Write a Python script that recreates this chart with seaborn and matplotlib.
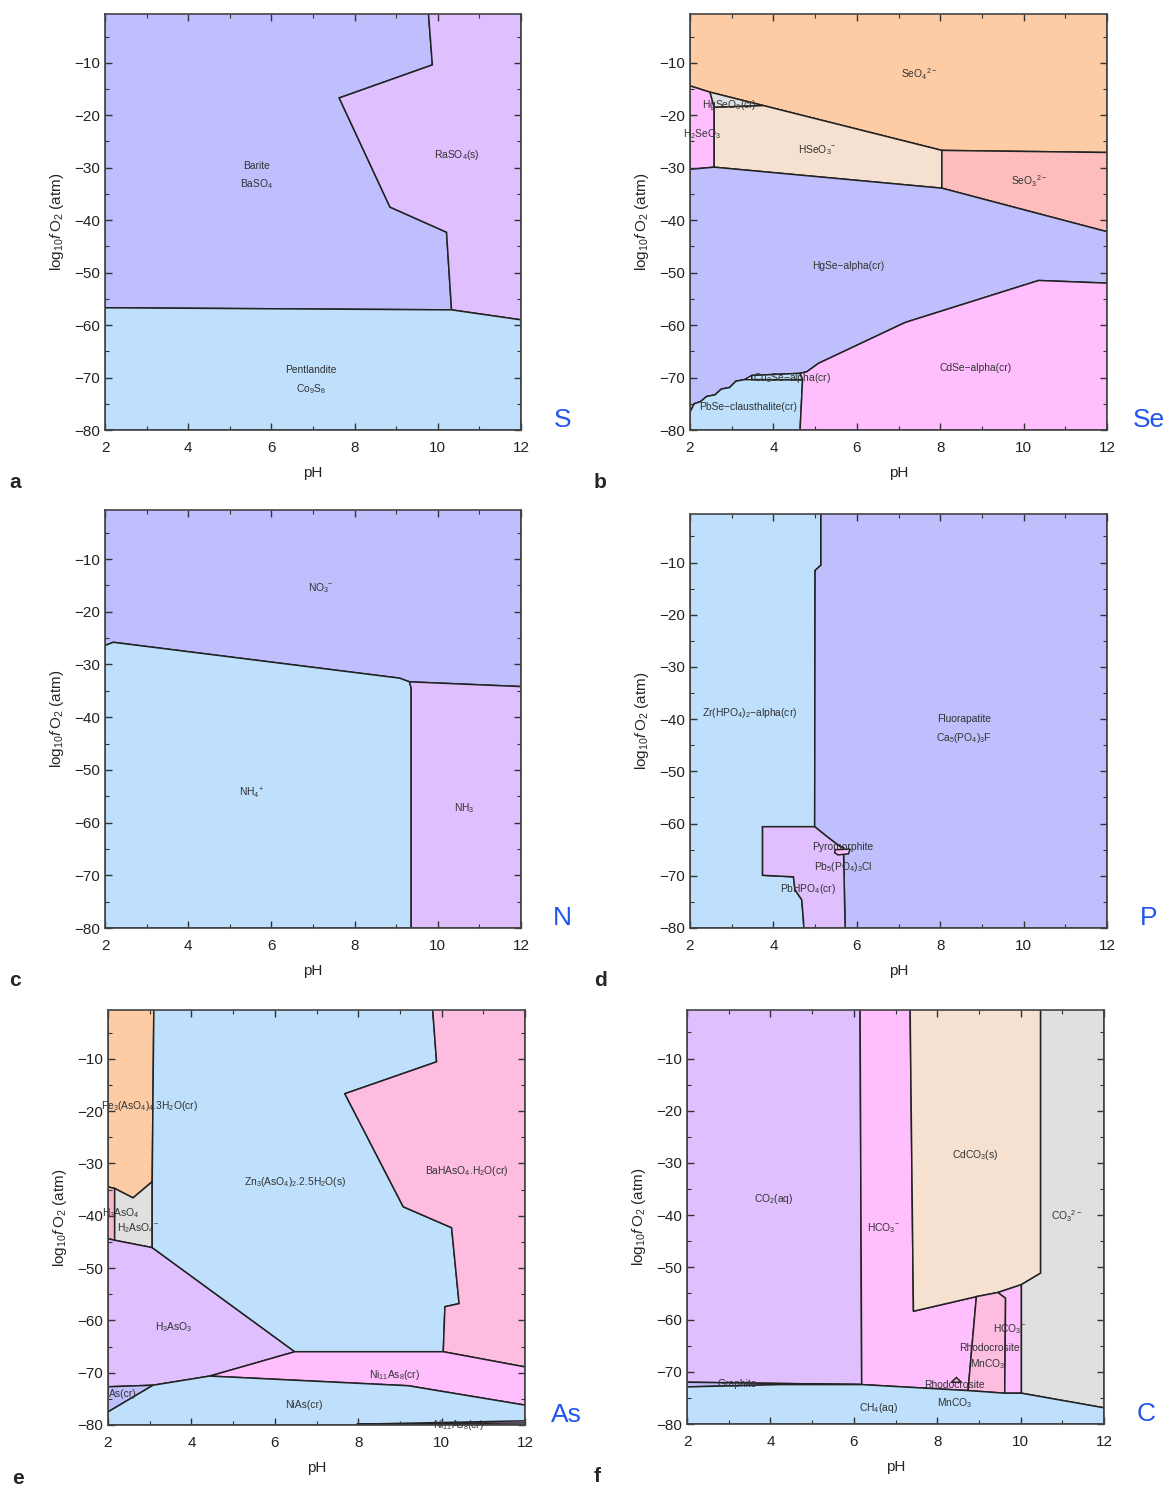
import matplotlib
matplotlib.use("Agg")
import matplotlib.pyplot as plt
import seaborn as sns
from matplotlib.ticker import MultipleLocator

# ---- colours of the predominance fields
LAV = '#bfbffe'
BLUE = '#bee0fc'
LILAC = '#dfbffd'
ORANGE = '#fdcca4'
PEACH = '#f6e0d0'
SALMON = '#fdbdbd'
PINK = '#ffbefd'
ROSE = '#fdbde0'
GREY = '#e0e0e0'
RED = '#fbb8c4'

# ---- a: S
a_barite = [(2, 0), (9.77, 0), (9.87, -10.4), (7.63, -16.7), (8.85, -37.5), (10.21, -42.3), (10.33, -57.1), (2, -56.7)]
a_raso4 = [(9.77, 0), (12, 0), (12, -59.0), (10.33, -57.1), (10.21, -42.3), (8.85, -37.5), (7.63, -16.7), (9.87, -10.4)]
a_pentlandite = [(2, -56.7), (10.33, -57.1), (12, -59.0), (12, -80), (2, -80)]

# ---- b: Se
b_seo4 = [(2, 0), (12, 0), (12, -27.1), (8.04, -26.7), (3.76, -18.16), (2.48, -15.6), (2, -14.4)]
b_hgseo3 = [(2.48, -15.6), (3.76, -18.16), (2.58, -18.5)]
b_h2seo3 = [(2, -14.4), (2.48, -15.6), (2.58, -18.5), (2.58, -29.9), (2, -30.3)]
b_hseo3 = [(2.58, -18.5), (3.76, -18.16), (8.04, -26.7), (8.04, -33.9), (2.58, -29.9)]
b_seo3 = [(8.04, -26.7), (12, -27.1), (12, -42.2), (8.04, -33.9)]
b_hgse = [(2, -30.3), (2.58, -29.9), (8.04, -33.9), (12, -42.2), (12, -52.0), (10.36, -51.5), (7.16, -59.5),
          (5.08, -67.3), (4.8, -68.9), (4.64, -69.2), (3.48, -69.6), (3.3, -70.4), (3.1, -70.7), (2.95, -71.9),
          (2.75, -72.2), (2.6, -73.3), (2.4, -73.6), (2.25, -74.6), (2.1, -75.0), (2, -76.6)]
b_cu2se = [(3.48, -69.6), (4.64, -69.2), (4.7, -70.4), (3.48, -70.4)]
b_pbse = [(2, -76.6), (2.1, -75.0), (2.25, -74.6), (2.4, -73.6), (2.6, -73.3), (2.75, -72.2), (2.95, -71.9),
          (3.1, -70.7), (3.3, -70.4), (3.48, -70.4), (4.7, -70.4), (4.64, -80), (2, -80)]
b_cdse = [(4.64, -69.2), (4.8, -68.9), (5.08, -67.3), (7.16, -59.5), (10.36, -51.5), (12, -52.0), (12, -80),
          (4.64, -80), (4.7, -70.4)]

# ---- c: N
c_no3 = [(2, 0), (12, 0), (12, -34.2), (9.32, -33.3), (9.08, -32.6), (2.2, -25.8), (2, -26.4)]
c_nh4 = [(2, -26.4), (2.2, -25.8), (9.08, -32.6), (9.32, -33.3), (9.36, -34.5), (9.36, -80), (2, -80)]
c_nh3 = [(9.32, -33.3), (12, -34.2), (12, -80), (9.36, -80), (9.36, -34.5)]

# ---- d: P
d_zr = [(2, 0), (5.14, 0), (5.14, -10.5), (5.0, -11.5), (4.99, -60.6), (3.74, -60.6), (3.74, -69.9), (4.48, -70.2),
        (4.52, -72.7), (4.68, -74.6), (4.72, -78.5), (4.73, -80), (2, -80)]
d_fluor = [(5.14, 0), (12, 0), (12, -80), (5.72, -80), (5.68, -64.6), (5.6, -64.4), (5.4, -63.2), (5.24, -62.2),
           (4.99, -60.6), (5.0, -11.5), (5.14, -10.5)]
d_pyro = [(3.74, -60.6), (4.99, -60.6), (5.24, -62.2), (5.4, -63.2), (5.6, -64.4), (5.68, -64.6), (5.72, -80),
          (4.73, -80), (4.72, -78.5), (4.68, -74.6), (4.52, -72.7), (4.48, -70.2), (3.74, -69.9)]
d_blob = [(5.48, -65.0), (5.84, -64.9), (5.8, -65.8), (5.55, -66.0), (5.47, -65.6)]

# ---- e: As
e_fe = [(2, 0), (3.1, 0), (3.06, -33.5), (2.6, -36.6), (2.16, -34.8), (2, -34.5)]
e_h3aso4 = [(2, -34.5), (2.16, -34.8), (2.16, -44.7), (2, -44.4)]
e_h2aso4 = [(2.16, -34.8), (2.6, -36.6), (3.06, -33.5), (3.06, -46.1), (2.16, -44.7)]
e_h3aso3 = [(2, -44.4), (2.16, -44.7), (3.06, -46.1), (6.48, -66.0), (4.44, -70.65), (3.08, -72.4), (2, -72.7)]
e_ascr = [(2, -72.7), (3.08, -72.4), (2, -77.5)]
e_zn = [(3.1, 0), (9.78, 0), (9.88, -10.6), (7.68, -16.7), (9.08, -38.3), (10.24, -42.3), (10.42, -56.8),
        (10.08, -57.4), (10.04, -66.0), (6.48, -66.0), (3.06, -46.1), (3.06, -33.5)]
e_bahaso4 = [(9.78, 0), (12, 0), (12, -68.9), (10.04, -66.0), (10.08, -57.4), (10.42, -56.8), (10.24, -42.3),
             (9.08, -38.3), (7.68, -16.7), (9.88, -10.6)]
e_ni11 = [(6.48, -66.0), (10.04, -66.0), (12, -68.9), (12, -76.2), (9.2, -72.5), (4.44, -70.65)]
e_nias = [(2, -77.5), (3.08, -72.4), (4.44, -70.65), (9.2, -72.5), (12, -76.2), (12, -80), (2, -80)]
e_ni11_low = [(7.96, -79.85), (12, -79.2), (12, -79.6), (9.0, -79.8)]

# ---- f: C
f_co2 = [(2, 0), (6.15, 0), (6.19, -72.45), (2, -72.0)]
f_graphite = [(2, -72.0), (6.19, -72.45), (4.23, -72.45), (2, -72.9)]
f_hco3 = [(6.15, 0), (7.35, 0), (7.43, -58.4), (8.94, -55.6), (8.74, -73.6), (6.19, -72.45)]
f_cdco3 = [(7.35, 0), (10.48, 0), (10.48, -51.1), (10.02, -53.3), (9.46, -54.8), (8.94, -55.6), (7.43, -58.4)]
f_rhodo = [(8.94, -55.6), (9.46, -54.8), (9.64, -55.9), (9.62, -74.1), (8.74, -73.6)]
f_hco3b = [(9.46, -54.8), (10.02, -53.3), (10.02, -74.1), (9.62, -74.1), (9.64, -55.9)]
f_co3 = [(10.48, 0), (12, 0), (12, -76.9), (10.02, -74.1), (10.02, -53.3), (10.48, -51.1)]
f_ch4 = [(2, -72.9), (4.23, -72.45), (6.19, -72.45), (8.74, -73.6), (9.62, -74.1), (10.02, -74.1), (12, -76.9),
         (12, -80), (2, -80)]
f_tri = [(8.34, -72.0), (8.46, -71.1), (8.58, -72.0)]

# ---- field labels (pH, log fO2, text)
a_labels = [(5.65, -29.6, 'Barite'), (5.65, -33.1, 'BaSO$_4$'), (10.46, -27.5, 'RaSO$_4$(s)'),
            (6.95, -68.6, 'Pentlandite'), (6.95, -72.2, 'Co$_9$S$_8$')]
b_labels = [(7.5, -12.2, 'SeO$_4$$^{2-}$'), (2.95, -18.0, 'HgSeO$_3$(cr)'), (2.28, -23.5, 'H$_2$SeO$_3$'),
            (5.04, -26.6, 'HSeO$_3$$^{-}$'), (10.12, -32.6, 'SeO$_3$$^{2-}$'), (5.8, -48.8, 'HgSe\u2212alpha(cr)'),
            (8.84, -68.2, 'CdSe\u2212alpha(cr)'), (4.44, -70.1, 'Cu$_2$Se\u2212alpha(cr)'),
            (3.4, -75.7, 'PbSe\u2212clausthalite(cr)')]
c_labels = [(7.2, -15.5, 'NO$_3$$^{-}$'), (5.52, -54.5, 'NH$_4$$^{+}$'), (10.64, -57.2, 'NH$_3$')]
d_labels = [(3.44, -38.9, 'Zr(HPO$_4$)$_2$\u2212alpha(cr)'), (8.58, -39.9, 'Fluorapatite'),
            (8.58, -43.7, 'Ca$_5$(PO$_4$)$_3$F'), (5.67, -64.4, 'Pyromorphite'),
            (5.67, -68.3, 'Pb$_5$(PO$_4$)$_3$Cl'), (4.83, -72.5, 'PbHPO$_4$(cr)')]
e_labels = [(3.0, -19.1, 'Fe$_3$(AsO$_4$)$_4$.3H$_2$O(cr)'), (2.3, -39.6, 'H$_3$AsO$_4$'),
            (2.72, -42.4, 'H$_2$AsO$_4$$^{-}$'), (3.58, -61.3, 'H$_3$AsO$_3$'), (2.36, -74.1, 'As(cr)'),
            (6.49, -33.5, 'Zn$_3$(AsO$_4$)$_2$.2.5H$_2$O(s)'), (10.6, -31.4, 'BaHAsO$_4$.H$_2$O(cr)'),
            (8.88, -70.5, 'Ni$_{11}$As$_8$(cr)'), (6.7, -76.2, 'NiAs(cr)'), (10.4, -80.0, 'Ni$_{11}$As$_8$(cr)')]
f_labels = [(4.07, -36.9, 'CO$_2$(aq)'), (6.71, -42.4, 'HCO$_3$$^{-}$'), (8.9, -28.4, 'CdCO$_3$(s)'),
            (11.1, -40.2, 'CO$_3$$^{2-}$'), (9.74, -61.9, 'HCO$_3$$^{-}$'), (9.26, -65.4, 'Rhodocrosite'),
            (9.22, -68.6, 'MnCO$_3$'), (8.42, -72.5, 'Rhodocrosite'), (8.42, -76.0, 'MnCO$_3$'),
            (6.59, -76.9, 'CH$_4$(aq)'), (3.2, -72.3, 'Graphite')]

panels = [
    ('a', 'S', (105, 14, 521, 430), [(a_barite, LAV), (a_raso4, LILAC), (a_pentlandite, BLUE)], a_labels),
    ('b', 'Se', (690, 14, 1107, 430), [(b_seo4, ORANGE), (b_h2seo3, PINK), (b_hgseo3, GREY), (b_hseo3, PEACH),
                                       (b_seo3, SALMON), (b_hgse, LAV), (b_pbse, BLUE), (b_cu2se, BLUE),
                                       (b_cdse, PINK)], b_labels),
    ('c', 'N', (105, 510, 521, 928), [(c_no3, LAV), (c_nh4, BLUE), (c_nh3, LILAC)], c_labels),
    ('d', 'P', (690, 514, 1107, 928), [(d_zr, BLUE), (d_fluor, LAV), (d_pyro, LILAC), (d_blob, PINK)], d_labels),
    ('e', 'As', (108, 1010, 525, 1425), [(e_fe, ORANGE), (e_h3aso4, RED), (e_h2aso4, GREY), (e_h3aso3, LILAC),
                                         (e_ascr, LAV), (e_zn, BLUE), (e_bahaso4, ROSE), (e_ni11, PINK),
                                         (e_nias, BLUE), (e_ni11_low, PINK)], e_labels),
    ('f', 'C', (687, 1010, 1104, 1424), [(f_co2, LILAC), (f_graphite, LAV), (f_hco3, PINK), (f_cdco3, PEACH),
                                        (f_rhodo, ROSE), (f_hco3b, PINK), (f_co3, GREY), (f_ch4, BLUE),
                                        (f_tri, ROSE)], f_labels),
]

sns.set_theme(style="ticks")
plt.rcParams['font.family'] = ['Liberation Sans', 'DejaVu Sans']
plt.rcParams['mathtext.fontset'] = 'custom'
plt.rcParams['mathtext.rm'] = 'Liberation Sans'
plt.rcParams['mathtext.it'] = 'Liberation Sans:italic'
plt.rcParams['mathtext.bf'] = 'Liberation Sans:bold'

W, H = 1168, 1487
fig = plt.figure(figsize=(W / 100, H / 100), dpi=100)
fig.patch.set_facecolor('white')

for letter, elem, (l, t, r, b), regions, labels in panels:
    ax = fig.add_axes([l / W, 1 - b / H, (r - l) / W, (b - t) / H])
    ax.set_axisbelow(False)
    for poly, col in regions:
        xs = [p[0] for p in poly]
        ys = [p[1] for p in poly]
        ax.fill(xs, ys, facecolor=col, edgecolor='#222222', linewidth=1.1, zorder=1)
    for x, y, s in labels:
        ax.text(x, y, s, fontsize=7.4, ha='center', va='center', color='#333333', zorder=6)
    ax.set_xlim(2, 12)
    ax.set_ylim(-80, -0.7)
    ax.xaxis.set_major_locator(MultipleLocator(2))
    ax.xaxis.set_minor_locator(MultipleLocator(1))
    ax.yaxis.set_major_locator(MultipleLocator(10))
    ax.yaxis.set_minor_locator(MultipleLocator(5))
    ax.tick_params(which='both', direction='in', top=True, right=True, colors='#333333',
                   labelsize=11, labelcolor='#222222')
    ax.tick_params(which='major', length=5, width=1)
    ax.tick_params(which='minor', length=3, width=0.8)
    ax.tick_params(axis='x', pad=8)
    for sp in ax.spines.values():
        sp.set_color('#444444')
        sp.set_linewidth(1.2)
        sp.set_zorder(5)
    ax.set_xlabel('pH', fontsize=11, labelpad=8)
    ax.set_ylabel('log$_{10}$$\\mathit{f}\\,$O$_2$ (atm)', fontsize=11, labelpad=6)
    ax.text(1.10, 0.025, elem, transform=ax.transAxes, fontsize=19, color='#2255ee',
            ha='center', va='center')
    fig.text((l - 90) / W, 1 - (b + 53) / H, letter, fontsize=15, fontweight='bold',
             ha='center', va='center')

fig.savefig('out.png', dpi=100)
